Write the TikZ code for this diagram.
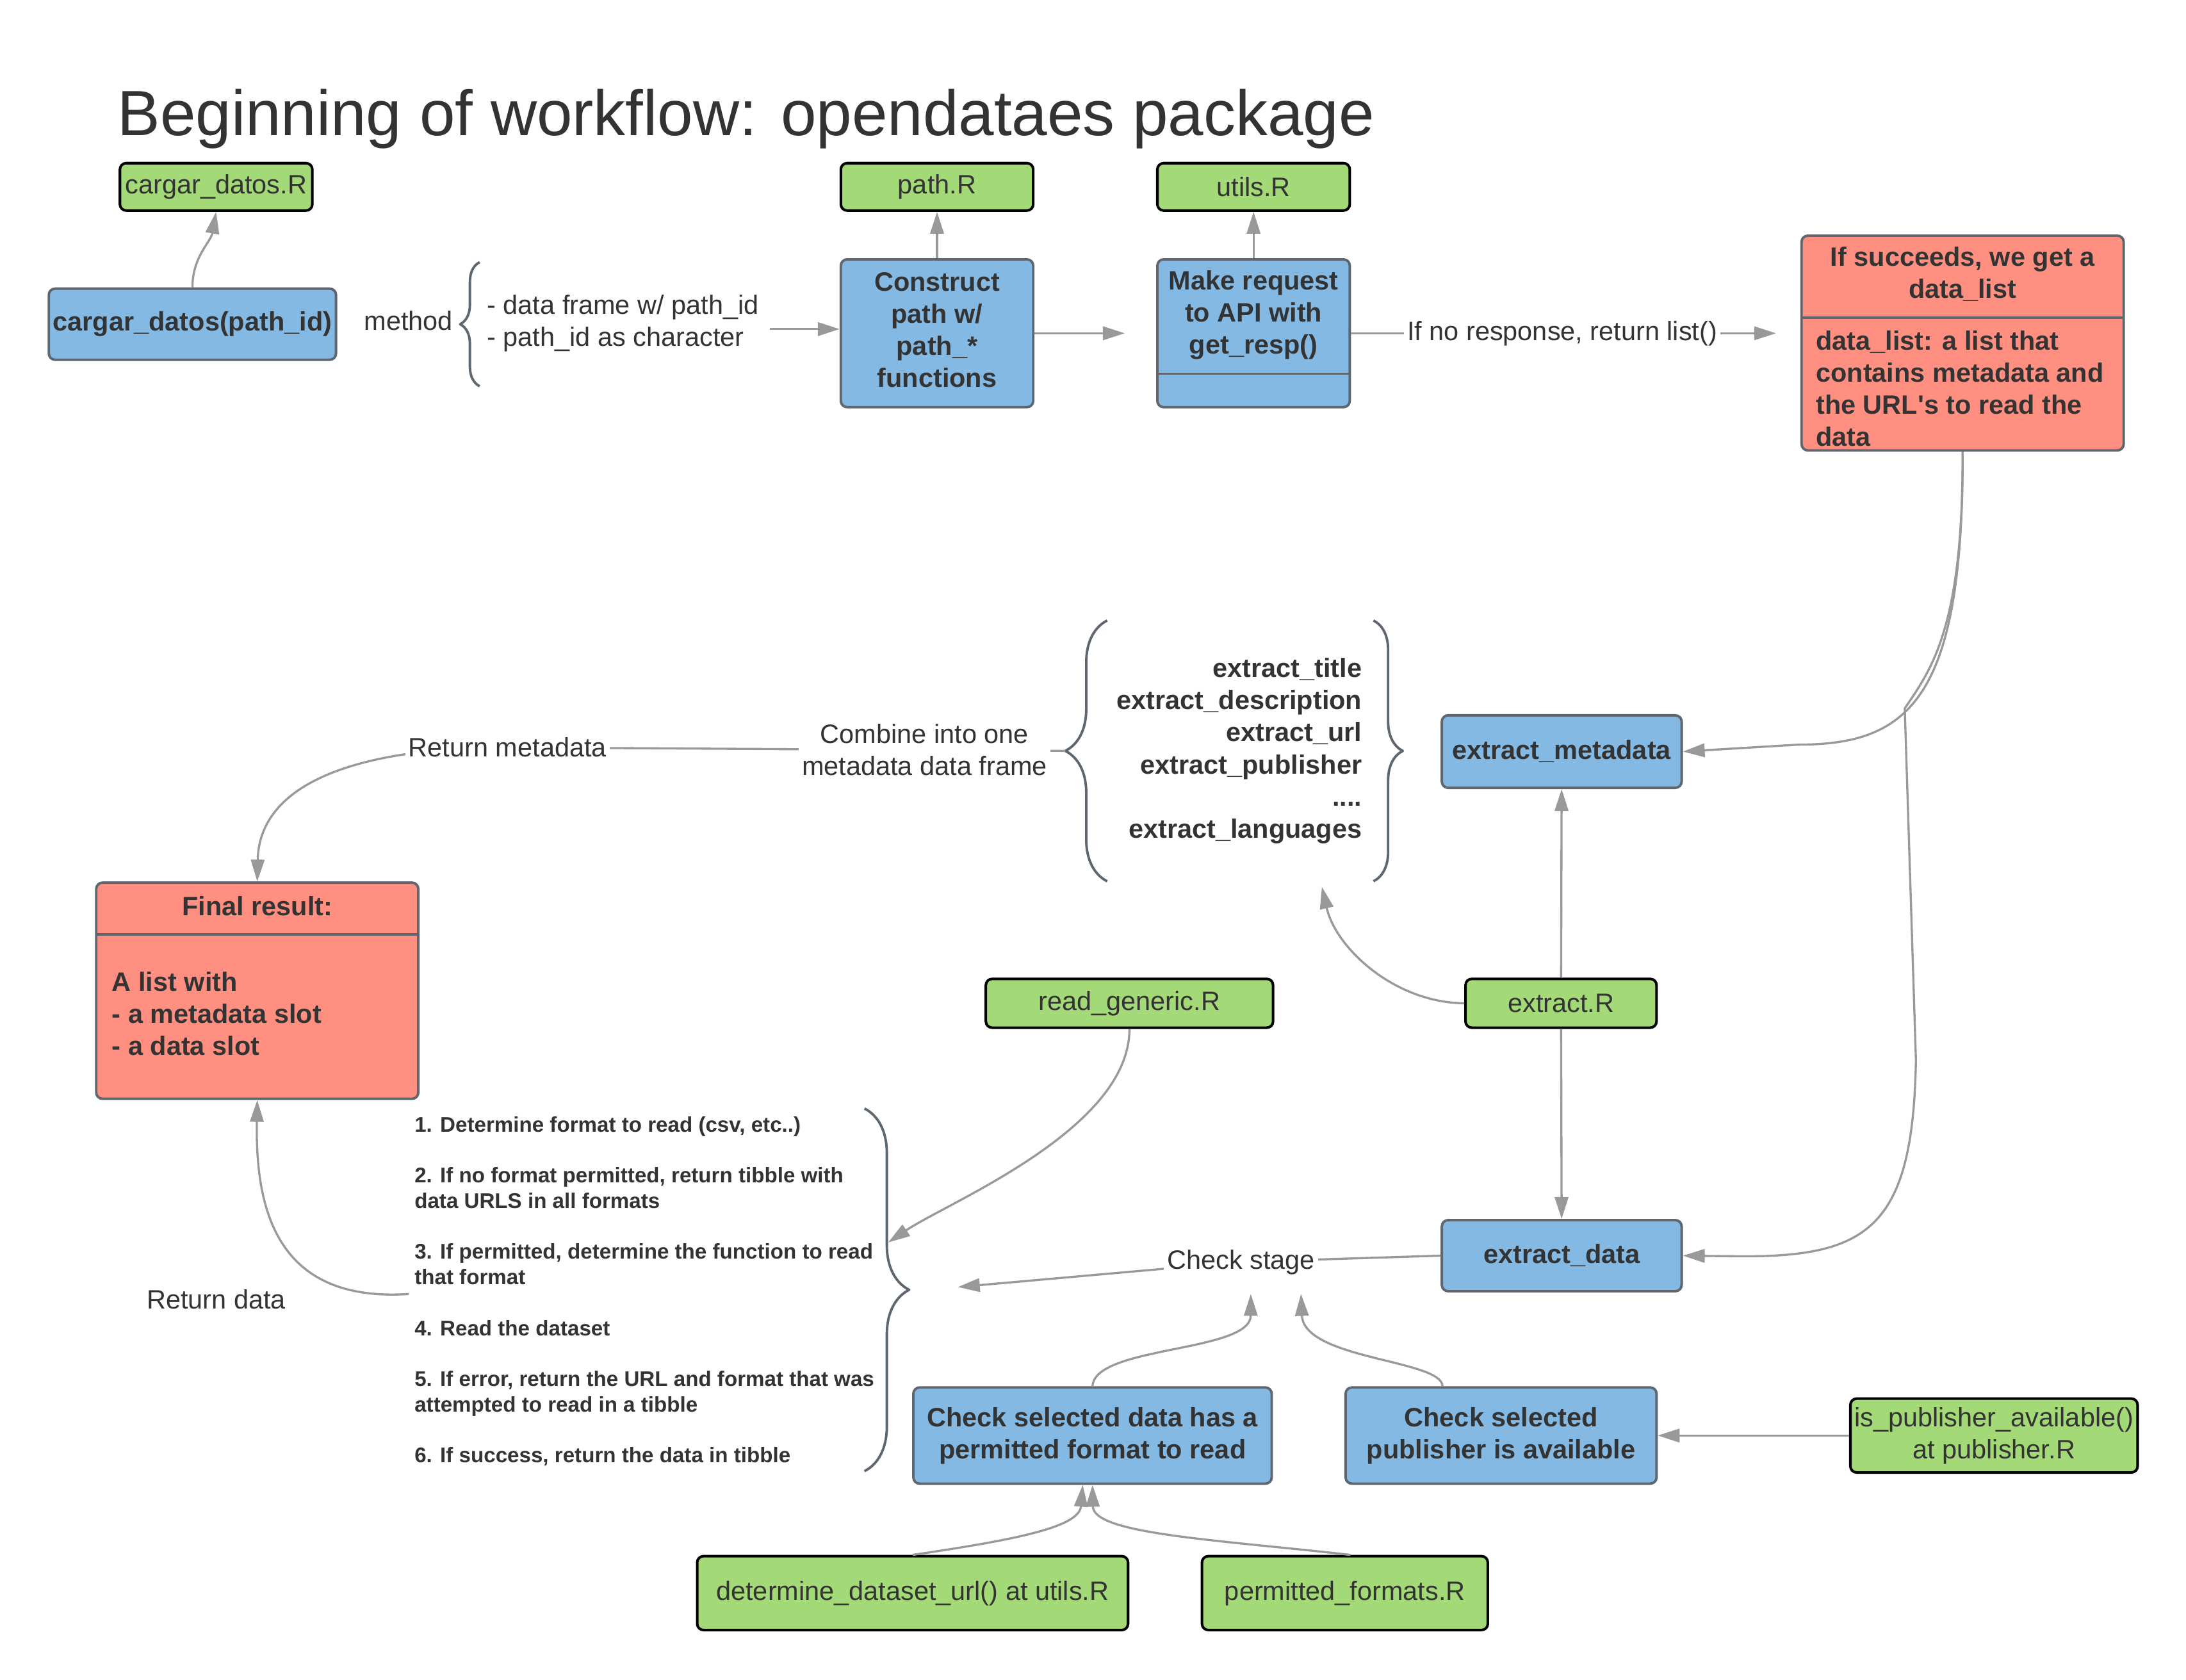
\documentclass[tikz,border=0pt]{standalone}
\usepackage{fontspec}
\setmainfont{Liberation Sans}
\usetikzlibrary{arrows.meta,decorations.pathreplacing}

\definecolor{filegreen}{HTML}{A3D977}
\definecolor{stepblue}{HTML}{83B9E3}
\definecolor{resultred}{HTML}{FF8F80}
\definecolor{edgegray}{HTML}{5E6670}
\definecolor{arrowgray}{HTML}{999999}
\definecolor{txt}{HTML}{333333}
\newcommand{\un}{0.2177mm}

\begin{document}
\begin{tikzpicture}[
    x = 0.2177mm, % one unit of the layout grid
    y = -0.2177mm, % y grows downwards
    line join = round
    ]

    \tikzset{
    every node/.style = {text = txt, font = \fontsize{11.8}{14.25}\selectfont},
    boxsize/.style 2 args = {minimum width = #1*\un, minimum height = #2*\un},
    filebox/.style = {draw = black, fill = filegreen, rounded corners = 2.8pt,
        line width = 1.15pt, inner sep = 0pt, align = center},
    stepbox/.style = {draw = edgegray, fill = stepblue, rounded corners = 2.8pt,
        line width = 1.1pt, inner sep = 0pt, align = center,
        font = \bfseries\fontsize{11.8}{14.25}\selectfont},
    resultbox/.style = {draw = edgegray, fill = resultred, rounded corners = 2.8pt,
        line width = 1.1pt, inner sep = 0pt},
    divider/.style = {draw = edgegray, line width = 1.1pt},
    boldtext/.style = {font = \bfseries\fontsize{11.8}{14.25}\selectfont, inner sep = 0pt},
    stepstext/.style = {font = \bfseries\fontsize{9.43}{11.3}\selectfont, inner sep = 0pt, align = left},
    arr/.style = {-{Triangle[length = 9.7pt, width = 6pt]}, color = arrowgray, line width = 0.95pt},
    lbl/.style = {fill = white, inner sep = 1.5pt, text = txt},
    brc/.style = {decorate, decoration = {brace, amplitude = #1*\un}, draw = edgegray, line width = 1.1pt}
    }

    \useasboundingbox (0,0) rectangle (1567.7,1204.8);

    \node[anchor = base west, inner sep = 0pt, font = \fontsize{28.4}{34}\selectfont] (title) at (84,97)
        {Beginning of workflow: opendataes package};

    % top row
    \node[filebox, boxsize = {138}{34}] (cargarR) at (155,134) {cargar\_datos.R};
    \node[stepbox, boxsize = {206}{51}] (cargar) at (138,232.5) {cargar\_datos(path\_id)};
    \node (method) at (293,230) {method};
    \node[align = left, anchor = west, inner sep = 0pt] (opts) at (349,232)
        {- data frame w/ path\_id\\- path\_id as character};
    \draw[brc = 14] (344,277) -- (344,188);
    \coordinate (optsout) at (552,236);

    \node[filebox, boxsize = {138}{34}] (pathR) at (672,134) {path.R};
    \node[stepbox, boxsize = {138}{106}] (construct) at (672,239) {};
    \node[boldtext, align = center] at (672,236.5) {Construct\\path w/\\path\_*\\functions};

    \node[filebox, boxsize = {138}{34}] (utilsR) at (899,134) {utils.R};
    \node[stepbox, boxsize = {138}{106}] (makereq) at (899,239) {};
    \draw[divider] (830,268) -- (968,268);
    \node[boldtext, align = center] at (899,226) {Make request\\to API with\\get\_resp()};

    \node[resultbox, boxsize = {231}{154}] (succ) at (1407.5,246) {};
    \draw[divider] (1292,228) -- (1523,228);
    \node[boldtext, align = center] at (1407.5,196.5) {If succeeds, we get a\\data\_list};
    \node[boldtext, align = left, anchor = west] at (1302,278.5)
        {data\_list: a list that\\contains metadata and\\the URL\textquotesingle s to read the\\data};

    % metadata part
    \node[boldtext, align = right, anchor = east] (extlist) at (977,538.5)
        {extract\_title\\extract\_description\\extract\_url\\extract\_publisher\\....\\extract\_languages};
    \draw[brc = 30] (794,632) -- (794,445);
    \draw[brc = 21] (985,445) -- (985,632);
    \coordinate (metatip) at (764,538.5);
    \coordinate (metain) at (948,636);

    \node[stepbox, boxsize = {172}{52}] (extmeta) at (1120,539) {extract\_metadata};
    \node[filebox, boxsize = {137}{35}] (extR) at (1119.5,719.5) {extract.R};
    \node[filebox, boxsize = {206}{35}] (readR) at (810,719.5) {read\_generic.R};
    \node[stepbox, boxsize = {172}{51}] (extdata) at (1120,900.5) {extract\_data};

    \node[resultbox, boxsize = {231}{155}] (final) at (184.5,710.5) {};
    \draw[divider] (69,670) -- (300,670);
    \node[boldtext] at (184.5,650) {Final result:};
    \node[boldtext, align = left, anchor = west] at (80,727) {A list with\\- a metadata slot\\- a data slot};

    % reading steps
    \node[stepstext, anchor = west] (steps) at (297,926)
        {1. Determine format to read (csv, etc..)\\[11.3pt]
         2. If no format permitted, return tibble with\\data URLS in all formats\\[11.3pt]
         3. If permitted, determine the function to read\\that format\\[11.3pt]
         4. Read the dataset\\[11.3pt]
         5. If error, return the URL and format that was\\attempted to read in a tibble\\[11.3pt]
         6. If success, return the data in tibble};
    \draw[brc = 32] (620,795) -- (620,1055);
    \coordinate (stepsin) at (637,891);
    \coordinate (stepsout) at (293,928);
    \coordinate (stagein) at (687,923);
    \node (retdata) at (155,932) {Return data};

    % checks
    \node[stepbox, boxsize = {257}{69}] (chkfmt) at (783.5,1029.5) {Check selected data has a\\permitted format to read};
    \node[stepbox, boxsize = {223}{69}] (chkpub) at (1076.5,1029.5) {Check selected\\publisher is available};
    \node[filebox, boxsize = {206}{53}] (pubR) at (1430,1029.5) {is\_publisher\_available()\\at publisher.R};
    \node[filebox, boxsize = {309}{53}] (detR) at (654.5,1142.5) {determine\_dataset\_url() at utils.R};
    \node[filebox, boxsize = {205}{53}] (permR) at (964.5,1142.5) {permitted\_formats.R};
    \coordinate (fmtin) at (897,928);
    \coordinate (pubin) at (933,928);

    % connectors
    \draw[arr] (cargar.north) to[out = 90, in = -100] (cargarR.south);
    \path[arr] (optsout) edge (optsout -| construct.west);
    \path[arr] (construct) edge (pathR);
    \path[arr] (construct) edge[shorten > = 4.9mm] (makereq);
    \path[arr] (makereq) edge (utilsR);
    \path[arr] (makereq.east) edge[shorten > = 3.8mm] node[lbl, pos = 0.47] {If no response, return list()}
        (makereq.east -| succ.west);

    \draw[arr] (succ.south) .. controls (1408,500) and (1370,534) .. (1290,534) -- (extmeta.east);
    \draw[arr] (succ.south) .. controls (1408,450) and (1385,480) .. (1366,508) -- (1374,760)
        .. controls (1372,880) and (1340,901) .. (1250,901) -- (extdata.east);

    \path[arr] (extR) edge (extmeta);
    \path[arr] (extR) edge (extdata);
    \draw[arr] (extR.west) .. controls (1000,719) and (958,680) .. (metain);

    \draw[arr] (metatip) -- node[lbl, align = center, pos = 0.2525] {Combine into one\\metadata data frame}
        (364,536) node[lbl] {Return metadata} .. controls (260,536) and (186,560) .. (final.north);

    \draw[arr] (readR.south) .. controls (810,810) and (680,862) .. (stepsin);
    \draw[arr] (stepsout) .. controls (200,934) and (183,870) .. (final.south);
    \draw[arr] (extdata.west) -- (890,905) node[lbl] {Check stage} -- (stagein);

    \draw[arr] (chkfmt.north) .. controls (785,965) and (897,970) .. (fmtin);
    \draw[arr] ([xshift = -42*\un]chkpub.north) .. controls (1034,975) and (935,975) .. (pubin);
    \path[arr] (pubR) edge (chkpub);
    \draw[arr] (detR.north) .. controls (730,1104) and (774,1095) .. ([xshift = -7*\un]chkfmt.south);
    \draw[arr] ([xshift = 4*\un]permR.north) .. controls (870,1104) and (784,1100) .. (chkfmt.south);
\end{tikzpicture}
\end{document}
